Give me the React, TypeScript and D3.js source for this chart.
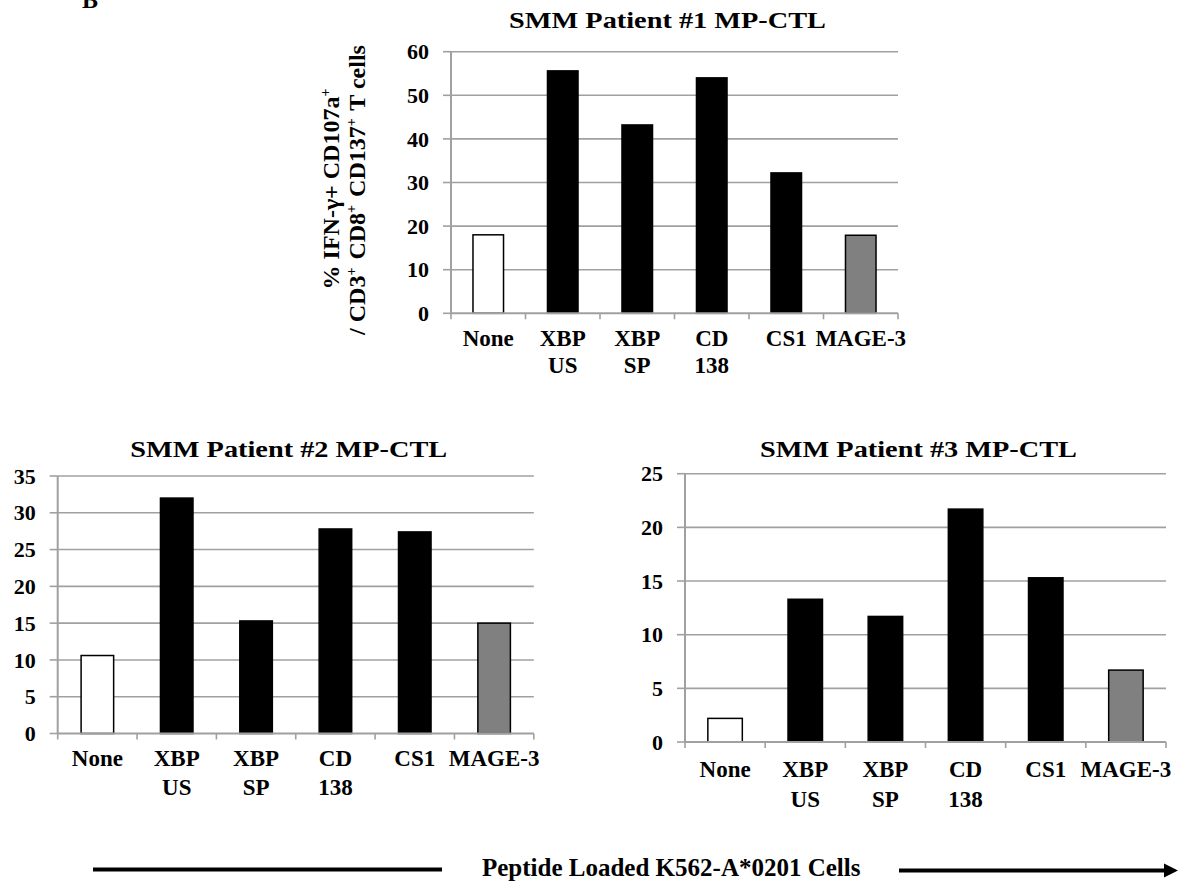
import React from "react";
import * as d3 from "d3";

const categories = ["None", "XBP US", "XBP SP", "CD 138", "CS1", "MAGE-3"];
const categoryLines = [["None"], ["XBP", "US"], ["XBP", "SP"], ["CD", "138"], ["CS1"], ["MAGE-3"]];
const barFills = ["#ffffff", "#000000", "#000000", "#000000", "#000000", "#808080"];

const patient1Values = [18.0, 55.6, 43.2, 54.0, 32.2, 17.9];
const patient2Values = [10.6, 32.0, 15.3, 27.8, 27.4, 15.0];
const patient3Values = [2.2, 13.3, 11.7, 21.7, 15.3, 6.7];

const patient1Ticks = [0, 10, 20, 30, 40, 50, 60];
const patient2Ticks = [0, 5, 10, 15, 20, 25, 30, 35];
const patient3Ticks = [0, 5, 10, 15, 20, 25];

const titles = ["SMM Patient #1 MP-CTL", "SMM Patient #2 MP-CTL", "SMM Patient #3 MP-CTL"];
const caption = "Peptide Loaded K562-A*0201 Cells";
const panelLetter = "B";

const FONT = "'Liberation Serif', 'Times New Roman', serif";
const GRID = "#a0a0a0";

type PanelProps = {
  values: number[];
  ticks: number[];
  title: string;
  x0: number;
  x1: number;
  yTop: number;
  yBase: number;
  pad: number;
  titleY: number;
  labelDy: number;
  lineGap: number;
};

function Panel(p: PanelProps) {
  const max = p.ticks[p.ticks.length - 1];
  const x = d3
    .scaleBand<string>()
    .domain(categories)
    .range([p.x0, p.x1])
    .paddingInner(p.pad)
    .paddingOuter(p.pad / 2);
  const y = d3.scaleLinear().domain([0, max]).range([p.yBase, p.yTop]);
  const step = x.step();
  const cx = (p.x0 + p.x1) / 2 - 7;
  return (
    <g>
      <text
        transform={`translate(${cx},${p.titleY}) scale(1.18,1)`}
        textAnchor="middle"
        fontFamily={FONT}
        fontWeight="bold"
        fontSize={24}
      >
        {p.title}
      </text>
      {p.ticks.map((t) => (
        <g key={t}>
          {t > 0 && (
            <line x1={p.x0} x2={p.x1} y1={y(t)} y2={y(t)} stroke={GRID} strokeWidth={1.6} />
          )}
          <line x1={p.x0 - 8} x2={p.x0} y1={y(t)} y2={y(t)} stroke={GRID} strokeWidth={1.6} />
          <text
            x={p.x0 - 22}
            y={y(t)}
            dy="0.35em"
            textAnchor="end"
            fontFamily={FONT}
            fontWeight="bold"
            fontSize={22}
          >
            {t}
          </text>
        </g>
      ))}
      {categories.map((c, i) => (
        <rect
          key={c}
          x={x(c)}
          y={y(p.values[i])}
          width={x.bandwidth()}
          height={p.yBase - y(p.values[i])}
          fill={barFills[i]}
          stroke="#000"
          strokeWidth={1.5}
        />
      ))}
      <line x1={p.x0} x2={p.x0} y1={p.yTop} y2={p.yBase} stroke={GRID} strokeWidth={2} />
      <line x1={p.x0} x2={p.x1} y1={p.yBase} y2={p.yBase} stroke={GRID} strokeWidth={2} />
      {d3.range(categories.length + 1).map((i) => (
        <line
          key={i}
          x1={p.x0 + i * step}
          x2={p.x0 + i * step}
          y1={p.yBase}
          y2={p.yBase + 6}
          stroke={GRID}
          strokeWidth={1.6}
        />
      ))}
      {categories.map((c, i) => (
        <text
          key={c}
          x={(x(c) as number) + x.bandwidth() / 2}
          y={p.yBase + p.labelDy}
          textAnchor="middle"
          fontFamily={FONT}
          fontWeight="bold"
          fontSize={23}
        >
          {categoryLines[i].map((ln, j) => (
            <tspan key={j} x={(x(c) as number) + x.bandwidth() / 2} dy={j === 0 ? 0 : p.lineGap}>
              {ln}
            </tspan>
          ))}
        </text>
      ))}
    </g>
  );
}

function Sup({ children }: { children: string }) {
  return (
    <>
      <tspan dy={-9} fontSize={14}>
        {children}
      </tspan>
      <tspan dy={9}>{"\u200A"}</tspan>
    </>
  );
}

export default function App() {
  return (
    <div style={{ position: "absolute", left: 0, top: 0 }}>
      <svg width={1190} height={882} style={{ display: "block", background: "#fff" }}>
        <text x={82} y={8} fontFamily={FONT} fontWeight="bold" fontSize={24}>
          {panelLetter}
        </text>

        <Panel
          values={patient1Values}
          ticks={patient1Ticks}
          title={titles[0]}
          x0={451}
          x1={898}
          yTop={51.7}
          yBase={313.3}
          pad={0.59}
          titleY={28}
          labelDy={33}
          lineGap={27}
        />
        <Panel
          values={patient2Values}
          ticks={patient2Ticks}
          title={titles[1]}
          x0={57.7}
          x1={533.8}
          yTop={476}
          yBase={733.5}
          pad={0.59}
          titleY={456.7}
          labelDy={32.5}
          lineGap={29}
        />
        <Panel
          values={patient3Values}
          ticks={patient3Ticks}
          title={titles[2]}
          x0={685}
          x1={1166}
          yTop={473.7}
          yBase={742}
          pad={0.57}
          titleY={456.7}
          labelDy={35}
          lineGap={30}
        />

        <g fontFamily={FONT} fontWeight="bold" fontSize={24}>
          <text transform="translate(339,188) rotate(-90)" textAnchor="middle">
            <tspan>% IFN-γ+ CD107a</tspan>
            <Sup>+</Sup>
          </text>
          <text transform="translate(365,190) rotate(-90)" textAnchor="middle">
            <tspan>/ CD3</tspan>
            <Sup>+</Sup>
            <tspan> CD8</tspan>
            <Sup>+</Sup>
            <tspan> CD137</tspan>
            <Sup>+</Sup>
            <tspan> T cells</tspan>
          </text>
        </g>

        <line x1={93} x2={442} y1={869.5} y2={869.5} stroke="#000" strokeWidth={4} />
        <text x={482} y={876} fontFamily={FONT} fontWeight="bold" fontSize={25}>
          {caption}
        </text>
        <line x1={899} x2={1166} y1={870.5} y2={870.5} stroke="#000" strokeWidth={4} />
        <path d="M1164,863.5 L1178,870.5 L1164,877.5 Z" fill="#000" />
      </svg>
    </div>
  );
}
